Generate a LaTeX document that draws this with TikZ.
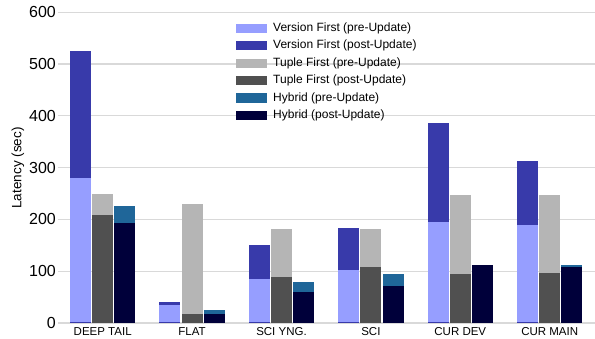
\documentclass[tikz,border=0pt]{standalone}
\usepackage{fontspec}
\setmainfont{Liberation Sans}
\usepackage{tikz}
\usetikzlibrary{positioning}

\definecolor{vfpre}{RGB}{150,158,255}
\definecolor{vfpost}{RGB}{56,58,170}
\definecolor{tfpre}{RGB}{181,181,181}
\definecolor{tfpost}{RGB}{80,80,80}
\definecolor{hypre}{RGB}{31,102,153}
\definecolor{hypost}{RGB}{0,0,58}
\definecolor{gridgray}{RGB}{217,217,217}

\begin{document}
\begin{tikzpicture}[x=1pt,y=1pt,
  gridline/.style={gridgray,line width=1.1pt},
  ticklabel/.style={font=\fontsize{16}{18}\selectfont,anchor=east,inner sep=0pt},
  catlabel/.style={font=\fontsize{11.5}{13}\selectfont,anchor=base,inner sep=0pt},
  legsw/.style={rectangle,minimum width=31pt,minimum height=9.3pt,inner sep=0pt,outer sep=0pt},
  legtx/.style={font=\fontsize{12}{14}\selectfont,inner sep=0pt,right=6pt of #1}]
\useasboundingbox (0,0) rectangle (595,339);

% grid
\draw[gridline] (58,16) -- (595,16);
\draw[gridline] (58,67.8) -- (595,67.8);
\draw[gridline] (58,119.6) -- (595,119.6);
\draw[gridline] (58,171.4) -- (595,171.4);
\draw[gridline] (58,223.2) -- (595,223.2);
\draw[gridline] (58,275) -- (595,275);
\draw[gridline] (58,326.8) -- (595,326.8);
\node[ticklabel] (t0) at (56,16) {0};
\node[ticklabel] (t1) at (56,67.8) {100};
\node[ticklabel] (t2) at (56,119.6) {200};
\node[ticklabel] (t3) at (56,171.4) {300};
\node[ticklabel] (t4) at (56,223.2) {400};
\node[ticklabel] (t5) at (56,275) {500};
\node[ticklabel] (t6) at (56,326.8) {600};
\node[font=\fontsize{13.5}{15}\selectfont,rotate=90] (ytitle) at (18,171) {Latency (sec)};

% DEEP TAIL
\draw[fill=vfpost,draw=none] (70,16) rectangle (91,287.95);
\draw[fill=vfpre,draw=none] (70,16) rectangle (91,161.04);
\draw[fill=vfpost,draw=none] (70,16) rectangle (91,17.1);
\draw[fill=tfpre,draw=none] (92.2,16) rectangle (113.2,144.98);
\draw[fill=tfpost,draw=none] (92.2,16) rectangle (113.2,124.26);
\draw[fill=hypre,draw=none] (114.4,16) rectangle (135.4,133.07);
\draw[fill=hypost,draw=none] (114.4,16) rectangle (135.4,115.97);
% FLAT
\draw[fill=vfpost,draw=none] (159.4,16) rectangle (180.4,36.98);
\draw[fill=vfpre,draw=none] (159.4,16) rectangle (180.4,34.13);
\draw[fill=vfpost,draw=none] (159.4,16) rectangle (180.4,17.1);
\draw[fill=tfpre,draw=none] (181.6,16) rectangle (202.6,135.14);
\draw[fill=tfpost,draw=none] (181.6,16) rectangle (202.6,25.01);
\draw[fill=hypre,draw=none] (203.8,16) rectangle (224.8,28.95);
\draw[fill=hypost,draw=none] (203.8,16) rectangle (224.8,25.07);
% SCI YNG.
\draw[fill=vfpost,draw=none] (248.8,16) rectangle (269.8,94.01);
\draw[fill=vfpre,draw=none] (248.8,16) rectangle (269.8,60.03);
\draw[fill=vfpost,draw=none] (248.8,16) rectangle (269.8,17.1);
\draw[fill=tfpre,draw=none] (271,16) rectangle (292,110.02);
\draw[fill=tfpost,draw=none] (271,16) rectangle (292,62.10);
\draw[fill=hypre,draw=none] (293.2,16) rectangle (314.2,56.92);
\draw[fill=hypost,draw=none] (293.2,16) rectangle (314.2,47.08);
% SCI
\draw[fill=vfpost,draw=none] (338.2,16) rectangle (359.2,111.0);
\draw[fill=vfpre,draw=none] (338.2,16) rectangle (359.2,68.99);
\draw[fill=vfpost,draw=none] (338.2,16) rectangle (359.2,17.1);
\draw[fill=tfpre,draw=none] (360.4,16) rectangle (381.4,110.02);
\draw[fill=tfpost,draw=none] (360.4,16) rectangle (381.4,71.94);
\draw[fill=hypre,draw=none] (382.6,16) rectangle (403.6,65.0);
\draw[fill=hypost,draw=none] (382.6,16) rectangle (403.6,52.99);
% CUR DEV
\draw[fill=vfpost,draw=none] (427.6,16) rectangle (448.6,215.95);
\draw[fill=vfpre,draw=none] (427.6,16) rectangle (448.6,117.01);
\draw[fill=vfpost,draw=none] (427.6,16) rectangle (448.6,17.1);
\draw[fill=tfpre,draw=none] (449.8,16) rectangle (470.8,143.95);
\draw[fill=tfpost,draw=none] (449.8,16) rectangle (470.8,65.0);
\draw[fill=hypre,draw=none] (472,16) rectangle (493,73.5);
\draw[fill=hypost,draw=none] (472,16) rectangle (493,74.02);
% CUR MAIN
\draw[fill=vfpost,draw=none] (517,16) rectangle (538,178.13);
\draw[fill=vfpre,draw=none] (517,16) rectangle (538,113.9);
\draw[fill=vfpost,draw=none] (517,16) rectangle (538,17.1);
\draw[fill=tfpre,draw=none] (539.2,16) rectangle (560.2,143.95);
\draw[fill=tfpost,draw=none] (539.2,16) rectangle (560.2,65.99);
\draw[fill=hypre,draw=none] (561.4,16) rectangle (582.4,74.02);
\draw[fill=hypost,draw=none] (561.4,16) rectangle (582.4,71.94);

\node[catlabel] (c1) at (102.7,3.8) {DEEP TAIL};
\node[catlabel] (c2) at (192.1,3.8) {FLAT};
\node[catlabel] (c3) at (281.5,3.8) {SCI YNG.};
\node[catlabel] (c4) at (370.9,3.8) {SCI};
\node[catlabel] (c5) at (460.3,3.8) {CUR DEV};
\node[catlabel] (c6) at (549.7,3.8) {CUR MAIN};

% legend
\begin{scope}[node distance=8.15pt]
\node[legsw,fill=vfpre] (sw1) at (251.5,310.7) {};
\node[legsw,fill=vfpost,below=of sw1] (sw2) {};
\node[legsw,fill=tfpre,below=of sw2] (sw3) {};
\node[legsw,fill=tfpost,below=of sw3] (sw4) {};
\node[legsw,fill=hypre,below=of sw4] (sw5) {};
\node[legsw,fill=hypost,below=of sw5] (sw6) {};
\node[legtx=sw1] (lt1) {Version First (pre-Update)};
\node[legtx=sw2] (lt2) {Version First (post-Update)};
\node[legtx=sw3] (lt3) {Tuple First (pre-Update)};
\node[legtx=sw4] (lt4) {Tuple First (post-Update)};
\node[legtx=sw5] (lt5) {Hybrid (pre-Update)};
\node[legtx=sw6] (lt6) {Hybrid (post-Update)};
\end{scope}

\end{tikzpicture}
\end{document}
